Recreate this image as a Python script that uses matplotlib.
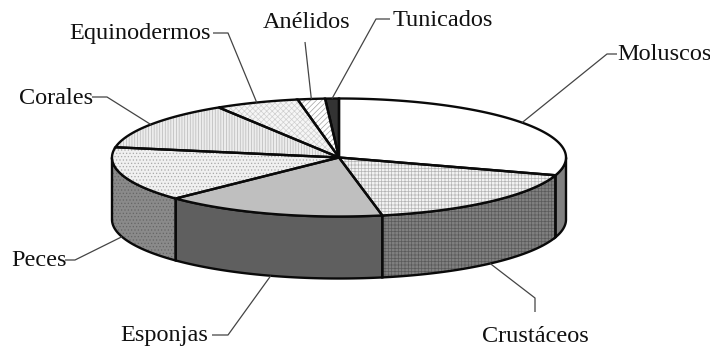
import numpy as np
import matplotlib
matplotlib.use("Agg")
import matplotlib.pyplot as plt
from matplotlib.patches import Polygon

plt.rcParams['hatch.linewidth'] = 0.5
plt.rcParams['font.family'] = ['Liberation Serif', 'DejaVu Serif']

labels = ['Moluscos', 'Crustáceos', 'Esponjas', 'Peces', 'Corales', 'Equinodermos', 'Anélidos', 'Tunicados']
values = [107.5, 61.5, 57.0, 54.0, 48.0, 21.5, 7.0, 3.5]

top_fill = ['#ffffff', '#f2f2f2', '#bfbfbf', '#f0f0f0', '#ececec', '#f6f6f6', '#ffffff', '#333333']
top_hatch = [None, '+++++', None, '.....', '||||||', 'xxxxxx', '//////', None]
top_hatch_col = ['#ffffff', '#b4b4b4', '#bfbfbf', '#a8a8a8', '#b8b8b8', '#cfcfcf', '#a0a0a0', '#333333']
wall_fill = ['#808080', '#808080', '#5f5f5f', '#8a8a8a', '#808080', '#808080', '#808080', '#808080']
wall_hatch = [None, '+++++', None, '.....', None, None, None, None]
wall_hatch_col = ['#808080', '#5a5a5a', '#5f5f5f', '#666666', '#808080', '#808080', '#808080', '#808080']

text_xy = [(617, 55), (482, 336), (120, 336), (11, 261), (19, 98), (69, 34), (263, 23), (393, 21)]
leader_bend = [(607, 54), (535, 298), (228, 335), (75, 260), (107, 97), (228, 33), (305, 42), (376, 19)]
leader_end = [(617, 54), (535, 312), (212, 335), (65, 260), (92, 97), (213, 33), None, (390, 19)]

cx, cy, rx, ry, depth = 339.0, 157.5, 227.0, 59.0, 62.0

fig = plt.figure(figsize=(7.1, 3.5), dpi=100, facecolor='white')
ax = fig.add_axes([0, 0, 1, 1])
ax.set_xlim(0, 710)
ax.set_ylim(350, 0)
ax.axis('off')


def rim(a0, a1, dy=0.0):
    t = np.radians(np.linspace(a0, a1, 120))
    return np.column_stack([cx + rx * np.cos(t), cy - ry * np.sin(t) + dy])


edges = 90 - np.concatenate([[0], np.cumsum(values)])

# side walls: only the part of each slice on the front half of the disc
for i in range(len(values)):
    a0 = min(edges[i], 0)
    a1 = max(edges[i + 1], -180)
    if a0 <= a1:
        continue
    pts = np.vstack([rim(a0, a1), rim(a1, a0, depth)])
    ax.add_patch(Polygon(pts, closed=True, facecolor=wall_fill[i], edgecolor=wall_hatch_col[i],
                         hatch=wall_hatch[i], lw=0, zorder=1))
    ax.add_patch(Polygon(pts, closed=True, fill=False, edgecolor='#0a0a0a', lw=1.7, zorder=2))

# top face
for i in range(len(values)):
    pts = np.vstack([[cx, cy], rim(edges[i], edges[i + 1])])
    ax.add_patch(Polygon(pts, closed=True, facecolor=top_fill[i], edgecolor=top_hatch_col[i],
                         hatch=top_hatch[i], lw=0, zorder=3))
    ax.add_patch(Polygon(pts, closed=True, fill=False, edgecolor='#0a0a0a', lw=1.7, zorder=4))

# labels with leader lines anchored at each slice's middle
for i, lab in enumerate(labels):
    mid = (edges[i] + edges[i + 1]) / 2
    ax_x = cx + rx * np.cos(np.radians(mid))
    ax_y = cy - ry * np.sin(np.radians(mid))
    if -180 < mid < 0:
        ax_y += depth
    xs = [ax_x, leader_bend[i][0]]
    ys = [ax_y, leader_bend[i][1]]
    if leader_end[i] is not None:
        xs.append(leader_end[i][0])
        ys.append(leader_end[i][1])
    ax.plot(xs, ys, color='#444444', lw=0.9, zorder=5, solid_capstyle='butt')
    ax.text(text_xy[i][0], text_xy[i][1], lab, fontsize=17.5, color='#111111',
            ha='left', va='center', zorder=6)

fig.savefig('out.png', dpi=100, facecolor='white')
